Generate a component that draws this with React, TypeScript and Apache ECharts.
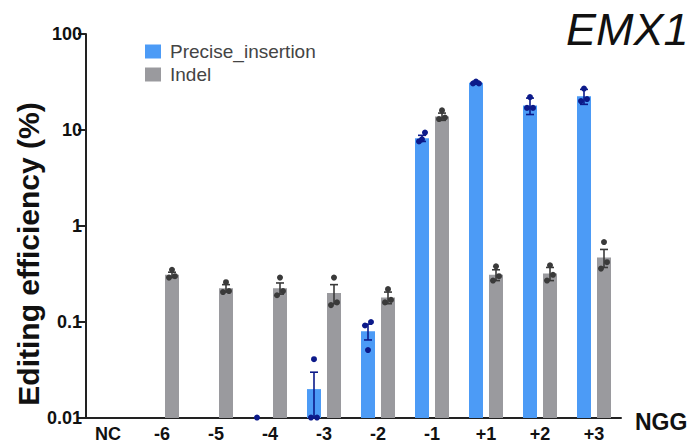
import React, { useEffect, useRef } from "react";
import * as echarts from "echarts";

const categories = ["NC", "-6", "-5", "-4", "-3", "-2", "-1", "+1", "+2", "+3"];
const yTickLabels = ["0.01", "0.1", "1", "10", "100"];

// Precise_insertion
const preciseMean: (number | null)[] = [null, null, null, null, 0.02, 0.08, 8.2, 31, 18, 22.5];
const preciseSem: (number | null)[] = [null, null, null, null, 0.01, 0.015, 0.6, 1.0, 3.5, 4.0];
const preciseRep1: (number | null)[] = [null, null, null, 0.0101, 0.0101, 0.092, 7.6, 30.5, 17, 20];
const preciseRep2: (number | null)[] = [null, null, null, null, 0.041, 0.051, 8.0, 32, 22, 27];
const preciseRep3: (number | null)[] = [null, null, null, null, 0.0101, 0.1, 9.4, 30.5, 17, 21];

// Indel
const indelMean: (number | null)[] = [null, 0.31, 0.225, 0.225, 0.2, 0.18, 13.8, 0.31, 0.32, 0.47];
const indelSem: (number | null)[] = [null, 0.02, 0.02, 0.03, 0.045, 0.025, 1.2, 0.04, 0.05, 0.1];
const indelRep1: (number | null)[] = [null, 0.29, 0.205, 0.19, 0.15, 0.16, 13, 0.27, 0.27, 0.36];
const indelRep2: (number | null)[] = [null, 0.35, 0.26, 0.29, 0.29, 0.22, 16, 0.38, 0.39, 0.68];
const indelRep3: (number | null)[] = [null, 0.3, 0.21, 0.21, 0.16, 0.17, 13.5, 0.3, 0.31, 0.42];

const AXIS_MIN = 0.01;
const BLUE = "#4c9bf6";
const GRAY = "#9a9a9e";
const BLUE_DOT = "#0c1a8a";
const GRAY_DOT = "#3a3a3a";
const FONT = "'Liberation Sans', Arial, Helvetica, sans-serif";
const BAR_OFFSET = 10;
const BAR_WIDTH = 14;
const JITTER = [-3, 0, 3];

function barData(mean: (number | null)[]) {
  const out: any[] = [];
  mean.forEach((m, i) => {
    if (m != null) out.push([i, m]);
  });
  return out;
}

function errData(mean: (number | null)[], sem: (number | null)[]) {
  const out: any[] = [];
  mean.forEach((m, i) => {
    if (m != null && sem[i] != null) out.push([i, m, sem[i]]);
  });
  return out;
}

function dotData(reps: (number | null)[][]) {
  const out: any[] = [];
  reps.forEach((r, k) => {
    r.forEach((v, i) => {
      if (v != null) out.push([i, v, k]);
    });
  });
  return out;
}

function makeBarRender(dx: number, color: string) {
  return (params: any, api: any) => {
    const i = api.value(0);
    const m = api.value(1);
    const top = api.coord([i, m]);
    const base = api.coord([i, AXIS_MIN]);
    const x = top[0] + dx - BAR_WIDTH / 2;
    return {
      type: "rect",
      shape: { x, y: top[1], width: BAR_WIDTH, height: base[1] - top[1] },
      style: { fill: color },
    };
  };
}

function makeErrRender(dx: number, color: string) {
  return (params: any, api: any) => {
    const i = api.value(0);
    const m = api.value(1);
    const s = api.value(2);
    const hi = api.coord([i, m + s]);
    const loV = Math.max(m - s, 0.0101);
    const lo = api.coord([i, loV]);
    const x = hi[0] + dx;
    const cw = 4;
    return {
      type: "group",
      children: [
        { type: "line", shape: { x1: x, y1: hi[1], x2: x, y2: lo[1] }, style: { stroke: color, lineWidth: 1.6 } },
        { type: "line", shape: { x1: x - cw, y1: hi[1], x2: x + cw, y2: hi[1] }, style: { stroke: color, lineWidth: 1.6 } },
        { type: "line", shape: { x1: x - cw, y1: lo[1], x2: x + cw, y2: lo[1] }, style: { stroke: color, lineWidth: 1.6 } },
      ],
    };
  };
}

function makeDotRender(dx: number, color: string) {
  return (params: any, api: any) => {
    const i = api.value(0);
    const v = api.value(1);
    const k = api.value(2);
    const p = api.coord([i, v]);
    return {
      type: "circle",
      shape: { cx: p[0] + dx + JITTER[k % 3], cy: p[1], r: 3 },
      style: { fill: color },
    };
  };
}

export default function App() {
  const ref = useRef<HTMLDivElement>(null);
  useEffect(() => {
    if (!ref.current) return;
    const chart = echarts.init(ref.current, undefined, { renderer: "svg" });
    chart.setOption({
      animation: false,
      backgroundColor: "#ffffff",
      textStyle: { fontFamily: FONT },
      grid: { left: 81, top: 34, width: 540, height: 384 },
      legend: {
        data: [
          { name: "Precise_insertion", itemStyle: { color: BLUE } },
          { name: "Indel", itemStyle: { color: GRAY } },
        ],
        orient: "vertical",
        left: 140,
        top: 37,
        icon: "rect",
        itemWidth: 16,
        itemHeight: 14,
        itemGap: 4,
        textStyle: { fontSize: 19, color: "#444", fontFamily: FONT, padding: [0, 0, 0, 4] },
      },
      xAxis: {
        type: "category",
        data: categories,
        axisLine: { lineStyle: { color: "#222", width: 2 } },
        axisTick: { alignWithLabel: true, length: 5, lineStyle: { color: "#222", width: 2 } },
        axisLabel: { fontSize: 18, fontWeight: "bold", color: "#111", margin: 7, fontFamily: FONT },
        splitLine: { show: false },
      },
      yAxis: {
        type: "log",
        logBase: 10,
        min: AXIS_MIN,
        max: 100,
        offset: -5,
        axisLine: { show: true, lineStyle: { color: "#222", width: 2 } },
        axisTick: { show: true, length: 8, lineStyle: { color: "#222", width: 2 } },
        axisLabel: {
          fontSize: 18,
          fontWeight: "bold",
          color: "#111",
          margin: 4,
          fontFamily: FONT,
          formatter: (v: number) => yTickLabels[Math.round(Math.log10(v)) + 2] ?? String(v),
        },
        splitLine: { show: false },
        minorTick: { show: false },
      },
      series: [
        {
          name: "Precise_insertion",
          type: "custom",
          renderItem: makeBarRender(-BAR_OFFSET, BLUE),
          data: barData(preciseMean),
          encode: { x: 0, y: 1 },
          itemStyle: { color: BLUE },
          z: 2,
        },
        {
          name: "Indel",
          type: "custom",
          renderItem: makeBarRender(BAR_OFFSET, GRAY),
          data: barData(indelMean),
          encode: { x: 0, y: 1 },
          itemStyle: { color: GRAY },
          z: 2,
        },
        {
          name: "Precise_insertion",
          type: "custom",
          renderItem: makeErrRender(-BAR_OFFSET, BLUE_DOT),
          data: errData(preciseMean, preciseSem),
          encode: { x: 0, y: 1 },
          itemStyle: { color: BLUE },
          z: 3,
        },
        {
          name: "Indel",
          type: "custom",
          renderItem: makeErrRender(BAR_OFFSET, GRAY_DOT),
          data: errData(indelMean, indelSem),
          encode: { x: 0, y: 1 },
          itemStyle: { color: GRAY },
          z: 3,
        },
        {
          name: "Precise_insertion",
          type: "custom",
          renderItem: makeDotRender(-BAR_OFFSET, BLUE_DOT),
          data: dotData([preciseRep1, preciseRep2, preciseRep3]),
          encode: { x: 0, y: 1 },
          itemStyle: { color: BLUE },
          clip: false,
          z: 4,
        },
        {
          name: "Indel",
          type: "custom",
          renderItem: makeDotRender(BAR_OFFSET, GRAY_DOT),
          data: dotData([indelRep1, indelRep2, indelRep3]),
          encode: { x: 0, y: 1 },
          itemStyle: { color: GRAY },
          clip: false,
          z: 4,
        },
      ],
      graphic: [
        {
          type: "text",
          x: 28,
          y: 254,
          rotation: Math.PI / 2,
          style: {
            text: "Editing efficiency (%)",
            fontSize: 30,
            fontWeight: "bold",
            fontFamily: FONT,
            fill: "#111",
            textAlign: "center",
            textVerticalAlign: "middle",
          },
        },
        {
          type: "text",
          x: 566,
          y: 7,
          style: {
            text: "EMX1",
            fontSize: 45,
            fontStyle: "italic",
            fontFamily: FONT,
            fill: "#111",
            textAlign: "left",
            textVerticalAlign: "top",
          },
        },
        {
          type: "text",
          x: 635,
          y: 422,
          style: {
            text: "NGG",
            fontSize: 23,
            fontWeight: "bold",
            fontFamily: FONT,
            fill: "#111",
            textAlign: "left",
            textVerticalAlign: "middle",
          },
        },
      ],
    });
    return () => chart.dispose();
  }, []);
  return (
    <div
      ref={ref}
      style={{ position: "fixed", left: 0, top: 0, width: 694, height: 443, background: "#fff" }}
    />
  );
}
